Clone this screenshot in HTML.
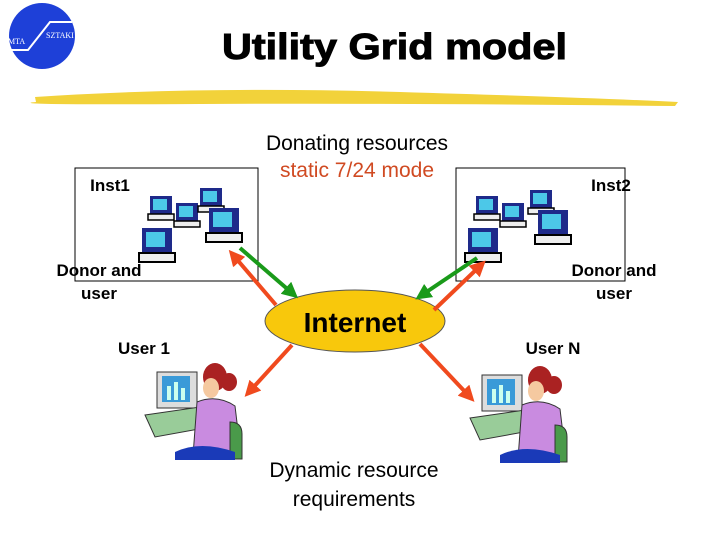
<!DOCTYPE html>
<html><head><style>
body{margin:0;background:#fff;width:720px;height:540px;overflow:hidden;font-family:"Liberation Sans",sans-serif}
</style></head><body>
<svg width="720" height="540" viewBox="0 0 720 540" xmlns="http://www.w3.org/2000/svg" font-family="Liberation Sans, sans-serif">
<defs>
<marker id="r" markerWidth="4" markerHeight="4" refX="2" refY="2" orient="auto"><path d="M0,0 L4,2 L0,4 z" fill="#f04a1e"/></marker>
<marker id="g" markerWidth="4" markerHeight="4" refX="2" refY="2" orient="auto"><path d="M0,0 L4,2 L0,4 z" fill="#1a9a1a"/></marker>
<g id="pc"><rect x="0" y="0" width="22" height="18" fill="#1e2a8a"/><rect x="3" y="3" width="14" height="11" fill="#4cc8e8"/><path d="M-2 18 h26 v6 h-26z" fill="#eee" stroke="#000" stroke-width="1.5"/></g>
<g id="pcb"><rect x="0" y="0" width="30" height="25" fill="#1e2a8a"/><rect x="4" y="4" width="19" height="15" fill="#4cc8e8"/><path d="M-3 25 h36 v9 h-36z" fill="#eee" stroke="#000" stroke-width="2"/></g>
<g id="user">
<rect x="12" y="12" width="40" height="36" fill="#ddd" stroke="#333"/><rect x="17" y="16" width="28" height="26" fill="#3a9ad8"/>
<rect x="22" y="26" width="4" height="14" fill="#cfe"/><rect x="29" y="22" width="4" height="18" fill="#cfe"/><rect x="36" y="28" width="4" height="12" fill="#cfe"/>
<path d="M0 55 l55 -8 l10 20 l-55 10z" fill="#9c9" stroke="#333"/>
<ellipse cx="70" cy="17" rx="12" ry="14" fill="#a22"/><ellipse cx="84" cy="22" rx="8" ry="9" fill="#a22"/>
<ellipse cx="66" cy="28" rx="8" ry="10" fill="#f5c9a0"/>
<path d="M52 42 q20 -8 38 4 l6 50 h-48z" fill="#c98be0" stroke="#333"/>
<path d="M85 62 q12 0 12 12 v25 h-12z" fill="#4a9a4a" stroke="#333"/>
<path d="M30 92 q25 -12 60 0 v8 h-60z" fill="#1a3ab8"/>
</g>
</defs>
<circle cx="42" cy="36" r="33" fill="#1e40d8"/>
<path d="M10 50 L28 50 L50 22 L72 22" stroke="#fff" stroke-width="2" fill="none"/>
<text x="8" y="44" font-size="8" fill="#fff" font-family="Liberation Serif">MTA</text>
<text x="46" y="38" font-size="8" fill="#fff" font-family="Liberation Serif">SZTAKI</text>
<text x="222" y="59" font-size="36" font-weight="bold" textLength="345" lengthAdjust="spacingAndGlyphs" stroke="#000" stroke-width="1">Utility Grid model</text>
<path d="M35 97 Q200 86 400 92 T678 102 L675 106 Q400 103 200 104 T36 102z" fill="#f2d23a"/>
<rect x="75" y="168" width="183" height="113" fill="none" stroke="#000"/>
<rect x="456" y="168" width="169" height="113" fill="none" stroke="#000"/>
<text x="110" y="191" font-size="17" font-weight="bold" text-anchor="middle">Inst1</text>
<text x="611" y="191" font-size="17" font-weight="bold" text-anchor="middle">Inst2</text>
<text x="99" y="276" font-size="17" font-weight="bold" text-anchor="middle">Donor  and</text>
<text x="99" y="299" font-size="17" font-weight="bold" text-anchor="middle">user</text>
<text x="614" y="276" font-size="17" font-weight="bold" text-anchor="middle">Donor  and</text>
<text x="614" y="299" font-size="17" font-weight="bold" text-anchor="middle">user</text>
<text x="144" y="354" font-size="17" font-weight="bold" text-anchor="middle">User 1</text>
<text x="553" y="354" font-size="17" font-weight="bold" text-anchor="middle">User N</text>
<text x="357" y="150" font-size="21" text-anchor="middle">Donating resources</text>
<text x="357" y="177" font-size="21" text-anchor="middle" fill="#d04a22">static 7/24 mode</text>
<text x="354" y="477" font-size="21" text-anchor="middle">Dynamic resource</text>
<text x="354" y="506" font-size="21" text-anchor="middle">requirements</text>
<use href="#pc" x="150" y="196"/>
<use href="#pc" x="176" y="203"/>
<use href="#pc" x="200" y="188"/>
<use href="#pcb" x="209" y="208"/>
<use href="#pcb" x="142" y="228"/>
<use href="#pc" x="476" y="196"/>
<use href="#pc" x="502" y="203"/>
<use href="#pc" x="530" y="190"/>
<use href="#pcb" x="538" y="210"/>
<use href="#pcb" x="468" y="228"/>
<ellipse cx="355" cy="321" rx="90" ry="31" fill="#f8c80c" stroke="#555"/>
<text x="355" y="332" font-size="28" font-weight="bold" text-anchor="middle">Internet</text>
<g stroke-width="4" fill="none">
<line x1="240" y1="248" x2="292" y2="293" stroke="#1a9a1a" marker-end="url(#g)"/>
<line x1="276" y1="305" x2="234" y2="256" stroke="#f04a1e" marker-end="url(#r)"/>
<line x1="477" y1="258" x2="422" y2="295" stroke="#1a9a1a" marker-end="url(#g)"/>
<line x1="434" y1="310" x2="480" y2="266" stroke="#f04a1e" marker-end="url(#r)"/>
<line x1="292" y1="345" x2="250" y2="391" stroke="#f04a1e" marker-end="url(#r)"/>
<line x1="420" y1="344" x2="469" y2="396" stroke="#f04a1e" marker-end="url(#r)"/>
</g>
<use href="#user" x="145" y="360"/>
<use href="#user" x="470" y="363"/>
</svg>
</body></html>
